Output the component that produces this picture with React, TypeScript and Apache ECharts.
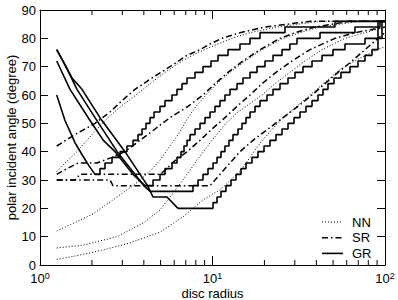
import React, { useEffect, useRef } from 'react';
import * as echarts from 'echarts';

// x: disc radius (log), y: polar incident angle (degree)
const xMinorTicks = [2, 3, 4, 5, 6, 7, 8, 9, 20, 30, 40, 50, 60, 70, 80, 90];
const legendNames = ['NN', 'SR', 'GR'];

// NN (dotted)
const NN1 = [[1.25,33],[1.396,36],[1.638,40],[1.873,44],[2.14,48],[2.479,52],[2.949,56],[3.602,60],[4.343,64],[5.304,68],[6.657,72],[8.242,75],[10.76,78],[12.97,80],[16.5,82],[23.66,84],[42.0,86],[100,86]];
const NN2 = [[1.25,12],[1.595,15],[2.029,18],[2.381,21],[2.795,24],[3.461,28],[4.343,33],[4.962,37],[5.67,42],[6.481,47],[7.211,52],[8.025,56],[9.169,60],[10.62,64],[12.63,68],[15.43,72],[19.36,76],[25.63,80],[32.15,82],[42.0,84],[71.63,86],[100,86]];
const NN3 = [[1.25,6],[1.775,7],[2.795,10],[3.955,14.8],[4.962,19.4],[5.902,25.4],[6.745,30],[8.132,37],[9.934,44],[11.97,50],[14.05,54],[16.5,57],[19.36,60],[23.03,64],[28.1,68],[34.37,72],[43.13,76],[58.62,80],[76.58,82],[100,84]];
const NN4 = [[1.25,2],[1.706,3.5],[2.318,5.3],[3.325,7.8],[4.962,11.6],[6.745,17],[8.81,23],[11.05,26.5],[14.43,33],[18.86,43],[24.62,51],[32.15,57],[42.0,63],[54.83,69],[71.63,73],[89.87,76],[100,77]];

// SR (dash-dot)
const SR1 = [[1.25,42],[1.595,46],[2.084,50],[2.546,54],[2.988,58],[3.553,62],[4.461,66],[5.67,70],[7.116,74],[8.464,76],[9.672,78],[11.35,80],[14.43,82],[20.15,84],[36.74,86],[100,86]];
const SR2 = [[1.25,32],[1.434,34],[1.661,36],[2.14,36],[2.615,38],[3.11,40],[3.8,44],[4.642,48],[5.67,52],[7.211,56],[8.81,60],[10.34,64],[12.3,68],[15.02,72],[18.86,76],[24.62,80],[30.08,82],[39.28,84],[62.68,86],[100,86]];
const SR3 = [[1.25,30],[1.595,30],[1.706,32],[4.962,32],[5.447,34],[5.824,36],[7.116,40],[8.464,44],[9.934,48],[11.81,52],[13.87,56],[16.5,60],[19.36,64],[23.34,68],[28.9,72],[36.74,76],[51.29,80],[66.99,82],[100,84]];
const SR4 = [[1.25,30],[2.546,30],[2.65,28],[9.672,28],[11.05,32],[12.63,36],[14.43,40],[17.17,44],[20.98,48],[25.63,52],[31.3,56],[37.75,60],[44.89,64],[53.4,68],[64.4,72],[76.58,76],[91.07,80],[100,82]];

// GR (solid): descending branch, then staircase branch
const GR1_down = [[1.25,60],[1.396,51],[1.6,43],[1.75,39],[1.9,35.5],[2.084,32]];
const GR1_up = [[2.084,32],[2.227,34],[2.381,36],[2.615,38],[2.91,40],[3.193,42],[3.461,44],[3.7,46],[3.903,48],[4.117,50],[4.343,52],[4.581,54],[4.962,56],[5.304,58],[5.824,60],[6.226,62],[6.657,64],[7.116,66],[7.918,68],[8.81,70],[9.802,72],[10.76,74],[12.3,76],[14.43,78],[16.5,80],[18.86,82],[26.32,84],[51.29,86],[100,86]];
const GR2_down = [[1.25,72],[1.493,62],[1.95,51],[2.33,44],[2.722,40],[3.461,32],[4.062,28]];
const GR2_up = [[4.062,28],[4.521,30],[4.962,32],[5.304,34],[5.824,36],[6.226,38],[6.568,40],[6.836,42],[7.116,44],[7.407,46],[7.918,48],[8.464,50],[9.048,52],[9.672,54],[10.34,56],[11.05,58],[11.81,60],[12.63,62],[13.87,64],[15.02,66],[16.5,68],[18.11,70],[20.15,72],[22.43,74],[25.29,76],[28.1,78],[30.9,80],[42.0,82],[66.99,84],[93.54,86],[100,86]];
const GR3_down = [[1.25,76],[1.415,70],[1.638,62],[2.084,52],[2.8,40],[3.55,32],[4.0,28],[4.343,26]];
const GR3_up = [[4.343,26],[7.709,28],[8.242,30],[8.81,32],[9.417,34],[10.07,36],[10.62,38],[11.2,40],[11.81,42],[12.46,44],[13.15,46],[14.05,48],[14.83,50],[15.64,52],[16.5,54],[17.64,56],[18.86,58],[20.7,60],[22.43,62],[24.62,64],[27.4,66],[30.08,68],[33.46,70],[37.75,72],[43.13,74],[49.95,76],[58.62,78],[76.58,80],[96.07,86],[100,86]];
const GR4_down = [[1.25,76],[1.533,66],[1.752,62],[2.227,52],[3.11,40],[3.8,32],[4.2,28],[4.521,24],[5.447,24],[6.31,20]];
const GR4_up = [[6.31,20],[10.07,22],[10.62,24],[11.2,26],[11.97,28],[12.8,30],[13.69,32],[14.63,34],[15.64,36],[16.94,38],[18.35,40],[19.89,42],[21.54,44],[23.34,46],[25.29,48],[27.4,50],[29.69,52],[32.15,54],[34.83,56],[37.75,58],[40.89,60],[43.71,62],[46.72,64],[50.62,66],[55.58,68],[62.68,70],[69.75,72],[76.58,74],[84.07,76],[91.07,86],[100,86]];

export default function App() {
  const ref = useRef<HTMLDivElement>(null);
  useEffect(() => {
    const chart = echarts.init(ref.current!, null, { renderer: 'svg' });
    const font = '"Liberation Sans", Arial, Helvetica, sans-serif';
    const nnDash = [1, 2];
    const srDash = [6, 3, 1.5, 3];
    const nnStyle = { color: '#000', width: 1, type: nnDash };
    const srStyle = { color: '#000', width: 1.5, type: srDash };
    const grStyle = { color: '#000', width: 1.6, type: 'solid' };
    const mk = (name: string, data: number[][], lineStyle: any, step: any = false) => ({
      type: 'line', name, data, symbol: 'none', showSymbol: false, step,
      lineStyle, itemStyle: { color: '#000' }, silent: true, z: 3,
    });
    const series: any[] = [
      mk('NN', NN1, nnStyle), mk('NN', NN2, nnStyle), mk('NN', NN3, nnStyle), mk('NN', NN4, nnStyle),
      mk('SR', SR1, srStyle), mk('SR', SR2, srStyle), mk('SR', SR3, srStyle), mk('SR', SR4, srStyle),
      mk('GR', GR1_down, grStyle), mk('GR', GR1_up, grStyle, 'end'),
      mk('GR', GR2_down, grStyle), mk('GR', GR2_up, grStyle, 'end'),
      mk('GR', GR3_down, grStyle), mk('GR', GR3_up, grStyle, 'end'),
      mk('GR', GR4_down, grStyle), mk('GR', GR4_up, grStyle, 'end'),
      {
        type: 'custom', coordinateSystem: 'cartesian2d', silent: true, clip: false, z: 5,
        data: xMinorTicks.map((v) => [v, 0]),
        renderItem: (_p: any, api: any) => {
          const b = api.coord([api.value(0), 0]);
          const t = api.coord([api.value(0), 90]);
          return {
            type: 'group',
            children: [
              { type: 'line', shape: { x1: b[0], y1: b[1], x2: b[0], y2: b[1] - 5 }, style: { stroke: '#000', lineWidth: 1 } },
              { type: 'line', shape: { x1: t[0], y1: t[1], x2: t[0], y2: t[1] + 5 }, style: { stroke: '#000', lineWidth: 1 } },
            ],
          };
        },
      },
    ];
    const axisLine = { show: true, onZero: false, lineStyle: { color: '#000', width: 1 } };
    const legendStyles: any[] = [
      { stroke: '#000', lineWidth: 1, lineDash: nnDash },
      { stroke: '#000', lineWidth: 1.5, lineDash: srDash },
      { stroke: '#000', lineWidth: 1.6 },
    ];
    const legendGraphic: any[] = [];
    legendNames.forEach((n, i) => {
      const y = 222 + i * 15.7;
      legendGraphic.push({
        type: 'line', shape: { x1: 322, y1: y, x2: 343, y2: y },
        style: legendStyles[i], silent: true, z: 10,
      });
      legendGraphic.push({
        type: 'text', x: 352, y, silent: true, z: 10,
        style: { text: n, fontSize: 13, fontFamily: font, fill: '#000', verticalAlign: 'middle', align: 'left' },
      });
    });
    chart.setOption({
      animation: false,
      grid: { left: 40, right: 13, top: 10, bottom: 35, containLabel: false, outerBoundsMode: 'none' },
      graphic: legendGraphic,
      xAxis: [
        {
          type: 'log', logBase: 10, min: 1, max: 100, position: 'bottom',
          axisLine, axisTick: { show: true, inside: true, length: 9, lineStyle: { color: '#000' } },
          splitLine: { show: false },
          axisLabel: {
            color: '#000', margin: 6, fontFamily: font,
            formatter: (v: number) => '{b|10}{s|' + Math.round(Math.log10(v)) + '}',
            rich: {
              b: { fontSize: 13, lineHeight: 14, verticalAlign: 'bottom', fontFamily: font, color: '#000' },
              s: { fontSize: 9, lineHeight: 14, verticalAlign: 'top', fontFamily: font, color: '#000' },
            },
          },
          name: 'disc radius', nameLocation: 'middle', nameGap: 21, nameMoveOverlap: false,
          nameTextStyle: { fontSize: 13, color: '#000', fontFamily: font, lineHeight: 14 },
        },
        {
          type: 'log', logBase: 10, min: 1, max: 100, position: 'top',
          axisLine, axisTick: { show: true, inside: true, length: 9, lineStyle: { color: '#000' } },
          axisLabel: { show: false }, splitLine: { show: false },
        },
      ],
      yAxis: [
        {
          type: 'value', min: 0, max: 90, interval: 10, position: 'left',
          axisLine, axisTick: { show: true, inside: true, length: 8, lineStyle: { color: '#000' } },
          splitLine: { show: false },
          axisLabel: { color: '#000', fontSize: 13, lineHeight: 12, margin: 4, fontFamily: font },
          name: 'polar incident angle (degree)', nameLocation: 'middle', nameGap: 22, nameRotate: 90, nameMoveOverlap: false,
          nameTextStyle: { fontSize: 13, color: '#000', fontFamily: font },
        },
        {
          type: 'value', min: 0, max: 90, interval: 10, position: 'right',
          axisLine, axisTick: { show: true, inside: true, length: 8, lineStyle: { color: '#000' } },
          axisLabel: { show: false }, splitLine: { show: false },
        },
      ],
      series,
    });
    return () => chart.dispose();
  }, []);
  return <div ref={ref} style={{ position: 'fixed', left: 0, top: 0, width: 398, height: 300, background: '#fff' }} />;
}
